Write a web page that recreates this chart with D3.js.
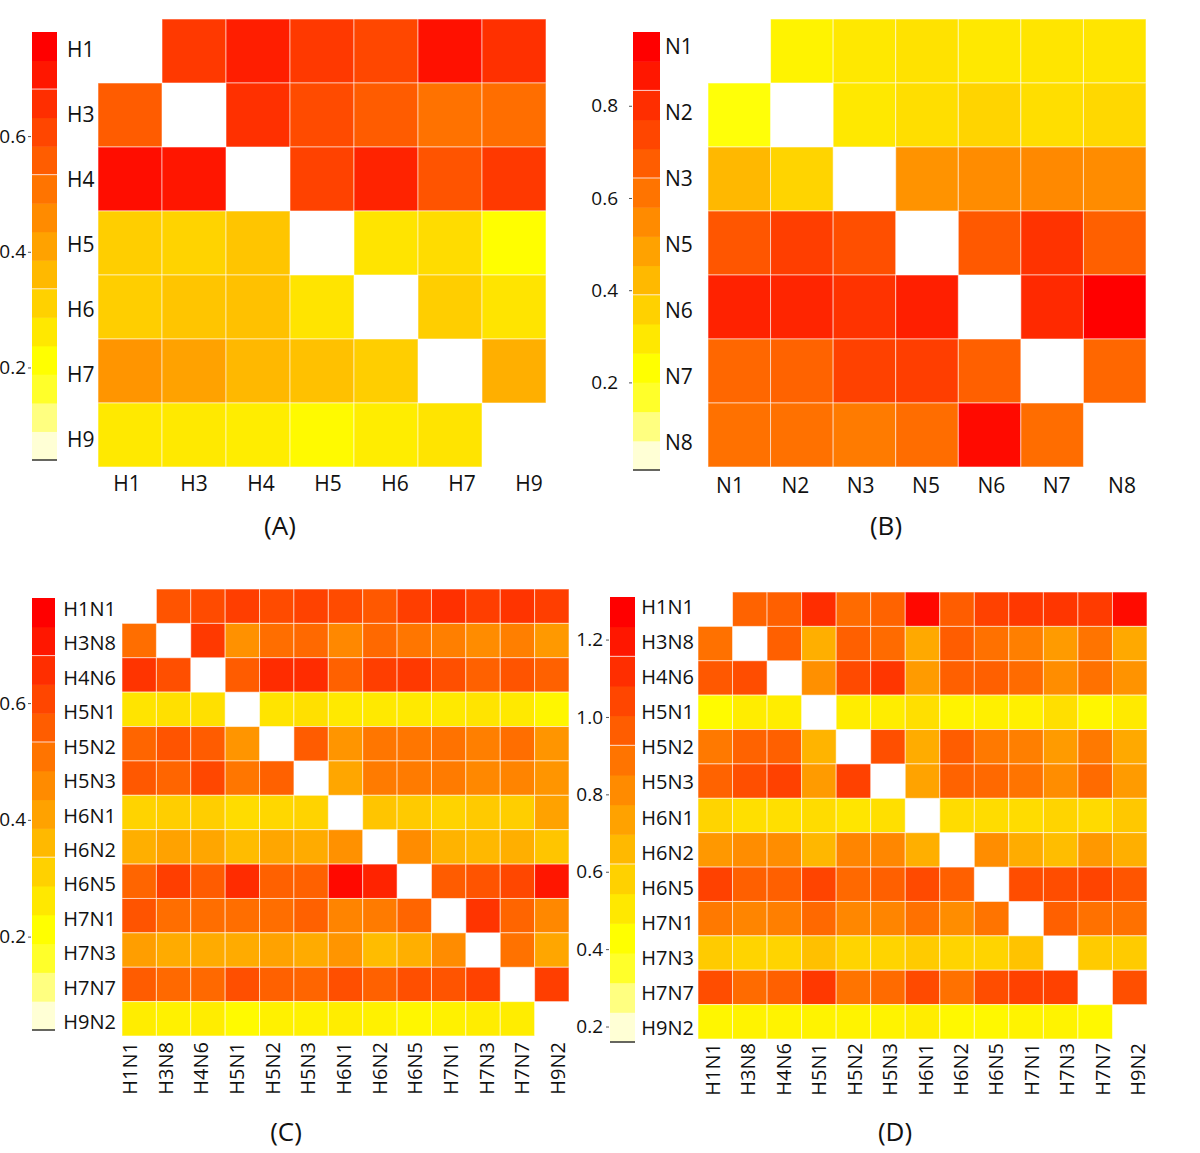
<!DOCTYPE html>
<html lang="en">
<head>
<meta charset="utf-8">
<script src="https://d3js.org/d3.v7.min.js"></script>
<style>
  body { margin: 0; background: #fff; }
  svg text { font-family: "Open Sans", "Noto Sans", sans-serif; fill: #111; }
</style>
</head>
<body>
<div id="chart"></div>
<script>
// ---- data ----
var labelsA = ["H1", "H3", "H4", "H5", "H6", "H7", "H9"];
var valuesA = [
  [null, .65, .71, .65, .62, .74, .67],
  [.57, null, .67, .61, .57, .52, .53],
  [.75, .73, null, .63, .70, .59, .65],
  [.31, .30, .33, null, .26, .28, .20],
  [.31, .33, .34, .26, null, .31, .26],
  [.44, .41, .36, .34, .31, null, .38],
  [.25, .25, .24, .21, .24, .26, null]
];
var domainA = [0.04, 0.78];
var ticksA = [0.2, 0.4, 0.6];

var labelsB = ["N1", "N2", "N3", "N5", "N6", "N7", "N8"];
var valuesB = [
  [null, .25, .28, .30, .28, .29, .29],
  [.20, null, .28, .31, .34, .31, .33],
  [.42, .34, null, .53, .55, .56, .55],
  [.71, .78, .73, null, .70, .81, .68],
  [.86, .85, .81, .87, null, .84, .96],
  [.66, .67, .77, .78, .68, null, .66],
  [.63, .63, .60, .64, .93, .64, null]
];
var domainB = [0.01, 0.96];
var ticksB = [0.2, 0.4, 0.6, 0.8];

var labelsCD = ["H1N1", "H3N8", "H4N6", "H5N1", "H5N2", "H5N3", "H6N1",
                "H6N2", "H6N5", "H7N1", "H7N3", "H7N7", "H9N2"];
var valuesC = [
  [null, .59, .61, .64, .61, .63, .61, .58, .64, .67, .64, .66, .64],
  [.53, null, .65, .45, .53, .54, .47, .54, .51, .49, .46, .49, .43],
  [.66, .60, null, .57, .68, .68, .56, .64, .65, .60, .56, .59, .56],
  [.26, .27, .27, null, .26, .27, .25, .25, .25, .25, .26, .25, .22],
  [.55, .59, .57, .44, null, .57, .44, .51, .51, .52, .49, .53, .44],
  [.58, .55, .62, .51, .56, null, .40, .50, .50, .50, .47, .48, .44],
  [.30, .31, .31, .28, .29, .30, null, .33, .32, .30, .32, .31, .41],
  [.38, .41, .40, .35, .40, .39, .45, null, .46, .37, .36, .38, .33],
  [.55, .64, .57, .68, .56, .56, .76, .70, null, .57, .59, .62, .73],
  [.59, .53, .53, .53, .53, .56, .48, .50, .55, null, .66, .55, .47],
  [.42, .39, .39, .39, .41, .39, .44, .35, .38, .46, null, .52, .40],
  [.57, .54, .54, .60, .56, .55, .60, .56, .60, .59, .63, null, .64],
  [.24, .23, .24, .21, .23, .23, .24, .23, .22, .23, .24, .24, null]
];
var domainC = [0.04, 0.78];
var ticksC = [0.2, 0.4, 0.6];

var valuesD = [
  [null, .96, .97, 1.15, .93, .96, 1.28, .98, 1.08, 1.11, 1.12, 1.10, 1.27],
  [.91, null, .97, .69, .97, .93, .71, .98, .91, .86, .76, .90, .71],
  [1.00, 1.04, null, .80, 1.05, 1.12, .76, .97, .97, .93, .81, .91, .79],
  [.42, .47, .47, null, .47, .47, .52, .45, .46, .46, .52, .44, .48],
  [.88, .96, .97, .67, null, 1.03, .70, .98, .88, .86, .76, .88, .71],
  [.96, 1.03, 1.08, .76, 1.08, null, .73, .96, .94, .90, .81, .93, .76],
  [.56, .52, .52, .53, .50, .52, null, .53, .53, .53, .56, .54, .60],
  [.77, .81, .81, .66, .84, .83, .69, null, .81, .70, .64, .77, .69],
  [1.08, .97, .97, 1.07, .94, .97, 1.05, .97, null, 1.04, 1.04, 1.07, 1.01],
  [.88, .84, .86, .94, .83, .84, .91, .81, .90, null, .97, .91, .91],
  [.59, .56, .56, .63, .56, .56, .59, .56, .56, .62, null, .59, .59],
  [1.04, .93, .97, 1.11, .90, .93, 1.05, .91, 1.04, 1.08, 1.08, null, 1.03],
  [.44, .45, .45, .45, .45, .45, .47, .43, .43, .45, .45, .43, null]
];
var domainD = [0.16, 1.31];
var ticksD = [0.2, 0.4, 0.6, 0.8, 1.0, 1.2];

// heat palette, low -> high (15 steps, as in the key)
var heatColors = ["#FFFFD5", "#FFFF80", "#FFFF2A", "#FFFF00", "#FFE800", "#FFD100",
                  "#FFB900", "#FFA200", "#FF8B00", "#FF7400", "#FF5D00", "#FF4600",
                  "#FF2E00", "#FF1700", "#FF0000"];
var keySeams = [6, 10, 13];   // faint white seams in the colour keys

// ---- layout ----
var panels = [
  {labels: labelsA, values: valuesA, domain: domainA, ticks: ticksA, caption: "(A)",
   grid: [98, 546, 19, 467], key: [32, 57, 32, 460], pad: 2,
   rowAnchor: "start", rowX: 67, rowRange: [50, 440], fs: 21,
   colRotate: false, colY: 491, colRange: [127, 529], capX: 280, capY: 535},
  {labels: labelsB, values: valuesB, domain: domainB, ticks: ticksB, caption: "(B)",
   grid: [708, 1146, 19, 467], key: [633, 660, 32, 470], pad: 11,
   rowAnchor: "start", rowX: 665, rowRange: [47, 443], fs: 21,
   colRotate: false, colY: 493, colRange: [730, 1122], capX: 886, capY: 535},
  {labels: labelsCD, values: valuesC, domain: domainC, ticks: ticksC, caption: "(C)",
   grid: [122, 569, 589, 1036], key: [32, 55, 598, 1030], pad: 2,
   rowAnchor: "end", rowX: 116, rowRange: [609, 1022], fs: 20,
   colRotate: true, colY: 1042, colRange: [137, 565], capX: 286, capY: 1141},
  {labels: labelsCD, values: valuesD, domain: domainD, ticks: ticksD, caption: "(D)",
   grid: [698, 1147, 592, 1039], key: [610, 635, 597, 1042], pad: 3,
   rowAnchor: "end", rowX: 694, rowRange: [607, 1028], fs: 20,
   colRotate: true, colY: 1043, colRange: [720, 1145], capX: 895, capY: 1141}
];

var svg = d3.select("#chart").append("svg")
  .attr("width", 1200)
  .attr("height", 1153);

svg.append("rect").attr("width", 1200).attr("height", 1153).attr("fill", "#fff");

var heat = d3.piecewise(d3.interpolateRgb, heatColors);

panels.forEach(function(p) {
  var g = svg.append("g");

  var x = d3.scaleBand().domain(p.labels).range([p.grid[0], p.grid[1]]);
  var y = d3.scaleBand().domain(p.labels).range([p.grid[2], p.grid[3]]);
  var color = d3.scaleSequential(heat).domain(p.domain);

  /* cells */
  var cells = [];
  p.values.forEach(function(row, i) {
    row.forEach(function(v, j) {
      if (v !== null) cells.push({row: p.labels[i], col: p.labels[j], value: v});
    });
  });

  g.append("g").selectAll("rect")
    .data(cells).enter()
    .append("rect")
    .attr("x", d => x(d.col))
    .attr("y", d => y(d.row))
    .attr("width", x.bandwidth())
    .attr("height", y.bandwidth())
    .attr("fill", d => color(d.value))
    .attr("stroke", "#fff")
    .attr("stroke-opacity", 0.55)
    .attr("stroke-width", 1);

  /* colour key */
  var k = d3.scaleLinear().domain(p.domain).range([p.key[3], p.key[2]]);
  var step = (p.domain[1] - p.domain[0]) / heatColors.length;
  var bands = heatColors.map(function(c, i) {
    return {lo: p.domain[0] + i * step, hi: p.domain[0] + (i + 1) * step, c: c};
  });

  g.append("g").selectAll("rect")
    .data(bands).enter()
    .append("rect")
    .attr("x", p.key[0])
    .attr("width", p.key[1] - p.key[0])
    .attr("y", d => k(d.hi))
    .attr("height", d => k(d.lo) - k(d.hi) + 0.5)
    .attr("fill", d => d.c);

  g.append("g").selectAll("line")
    .data(keySeams).enter()
    .append("line")
    .attr("x1", p.key[0]).attr("x2", p.key[1])
    .attr("y1", d => k(p.domain[0] + d * step))
    .attr("y2", d => k(p.domain[0] + d * step))
    .attr("stroke", "#fff")
    .attr("stroke-opacity", 0.8)
    .attr("stroke-width", 1);

  g.append("line")
    .attr("x1", p.key[0]).attr("x2", p.key[1])
    .attr("y1", p.key[3]).attr("y2", p.key[3])
    .attr("stroke", "#333")
    .attr("stroke-width", 1.5);

  var axis = d3.axisLeft(k)
    .tickValues(p.ticks)
    .tickSize(3)
    .tickPadding(p.pad)
    .tickFormat(d3.format(".1f"));

  var ag = g.append("g")
    .attr("transform", `translate(${p.key[0] - 1}, 0)`)
    .call(axis);
  ag.select(".domain").remove();
  ag.selectAll(".tick line").attr("stroke", "#555");
  ag.selectAll(".tick text")
    .attr("font-family", '"Open Sans", sans-serif')
    .attr("font-size", 19)
    .attr("fill", "#111");

  /* row labels */
  var ry = d3.scalePoint().domain(p.labels).range(p.rowRange);
  g.append("g").selectAll("text")
    .data(p.labels).enter()
    .append("text")
    .attr("x", p.rowX)
    .attr("y", d => ry(d))
    .attr("dy", "0.35em")
    .attr("text-anchor", p.rowAnchor)
    .attr("font-size", p.fs)
    .text(d => d);

  /* column labels */
  var cx = d3.scalePoint().domain(p.labels).range(p.colRange);
  var cl = g.append("g").selectAll("text")
    .data(p.labels).enter()
    .append("text")
    .attr("font-size", p.fs)
    .text(d => d);
  if (p.colRotate) {
    cl.attr("text-anchor", "end")
      .attr("transform", d => `translate(${cx(d)}, ${p.colY}) rotate(-90)`);
  } else {
    cl.attr("text-anchor", "middle")
      .attr("x", d => cx(d))
      .attr("y", p.colY);
  }

  /* caption */
  g.append("text")
    .attr("x", p.capX)
    .attr("y", p.capY)
    .attr("text-anchor", "middle")
    .attr("font-size", 26)
    .text(p.caption);
});
</script>
</body>
</html>
